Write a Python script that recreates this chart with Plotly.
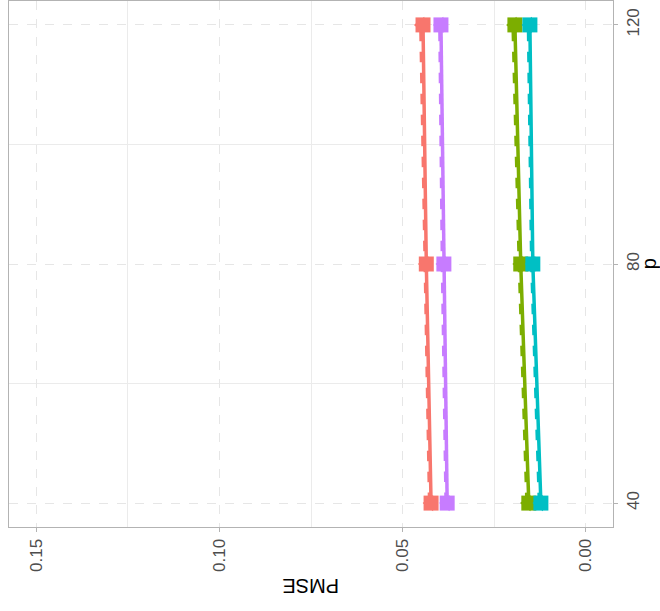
import plotly.graph_objects as go

p_vals = [40, 80, 120]
colors = ["#F8766D", "#C77CFF", "#7CAE00", "#00BFC4"]
solid_pmse = {
    "A": [0.0422, 0.0435, 0.0444],
    "B": [0.0378, 0.0387, 0.0395],
    "C": [0.0155, 0.0177, 0.0193],
    "D": [0.0122, 0.0144, 0.0152],
}
dashed_pmse = {
    "A": [0.0426, 0.0439, 0.0450],
    "B": [0.0381, 0.0391, 0.0398],
    "C": [0.0160, 0.0181, 0.0198],
    "D": [0.0126, 0.0147, 0.0156],
}
x_ticks = [0.00, 0.05, 0.10, 0.15]
x_ticklabels = ["0.00", "0.05", "0.10", "0.15"]
y_ticks = [40, 80, 120]

fig = go.Figure()
for (name, col) in zip(solid_pmse.keys(), colors):
    fig.add_trace(go.Scatter(
        x=dashed_pmse[name], y=p_vals, mode="lines+markers",
        line=dict(color=col, width=3.5, dash="dash"),
        marker=dict(symbol="triangle-left", size=14, color=col),
        showlegend=False))
    fig.add_trace(go.Scatter(
        x=solid_pmse[name], y=p_vals, mode="lines+markers",
        line=dict(color=col, width=3.5),
        marker=dict(symbol="square", size=15, color=col),
        showlegend=False))

fig.update_layout(
    width=660, height=611,
    margin=dict(l=9, r=47, t=1, b=84),
    paper_bgcolor="white", plot_bgcolor="white",
    font=dict(family="Liberation Sans, Arial", size=17, color="#4d4d4d"),
    xaxis=dict(
        range=[0.1575, -0.0075], tickvals=x_ticks, ticktext=x_ticklabels,
        tickangle=-90, showgrid=True, gridcolor="#e6e6e6", griddash="dash",
        gridwidth=1, zeroline=False, showline=True, linecolor="#b3b3b3",
        mirror=True, linewidth=1.2, ticks="outside", ticklen=4,
        tickcolor="#b3b3b3", automargin=False,
        minor=dict(tickvals=[0.025, 0.075, 0.125], showgrid=True,
                   gridcolor="#ebebeb", griddash="solid", gridwidth=1),
    ),
    yaxis=dict(
        range=[36, 124], tickvals=y_ticks, side="right",
        tickangle=-90, showgrid=True, gridcolor="#e6e6e6", griddash="dash",
        gridwidth=1, zeroline=False, showline=True, linecolor="#b3b3b3",
        mirror=True, linewidth=1.2, ticks="outside", ticklen=4,
        tickcolor="#b3b3b3", automargin=False,
        minor=dict(tickvals=[60, 100], showgrid=True,
                   gridcolor="#ebebeb", griddash="solid", gridwidth=1),
    ),
    annotations=[
        dict(text="PMSE", textangle=180, xref="paper", yref="paper",
             x=0.5, y=-0.111, xanchor="center", yanchor="middle",
             showarrow=False, font=dict(size=20, color="black")),
        dict(text="p", textangle=-90, xref="paper", yref="paper",
             x=1.06, y=0.5, xanchor="center", yanchor="middle",
             showarrow=False, font=dict(size=20, color="black")),
    ],
)
fig.write_html("out.html", config={"displayModeBar": False},
               post_script="document.body.style.margin='0';document.body.style.overflow='hidden';")
